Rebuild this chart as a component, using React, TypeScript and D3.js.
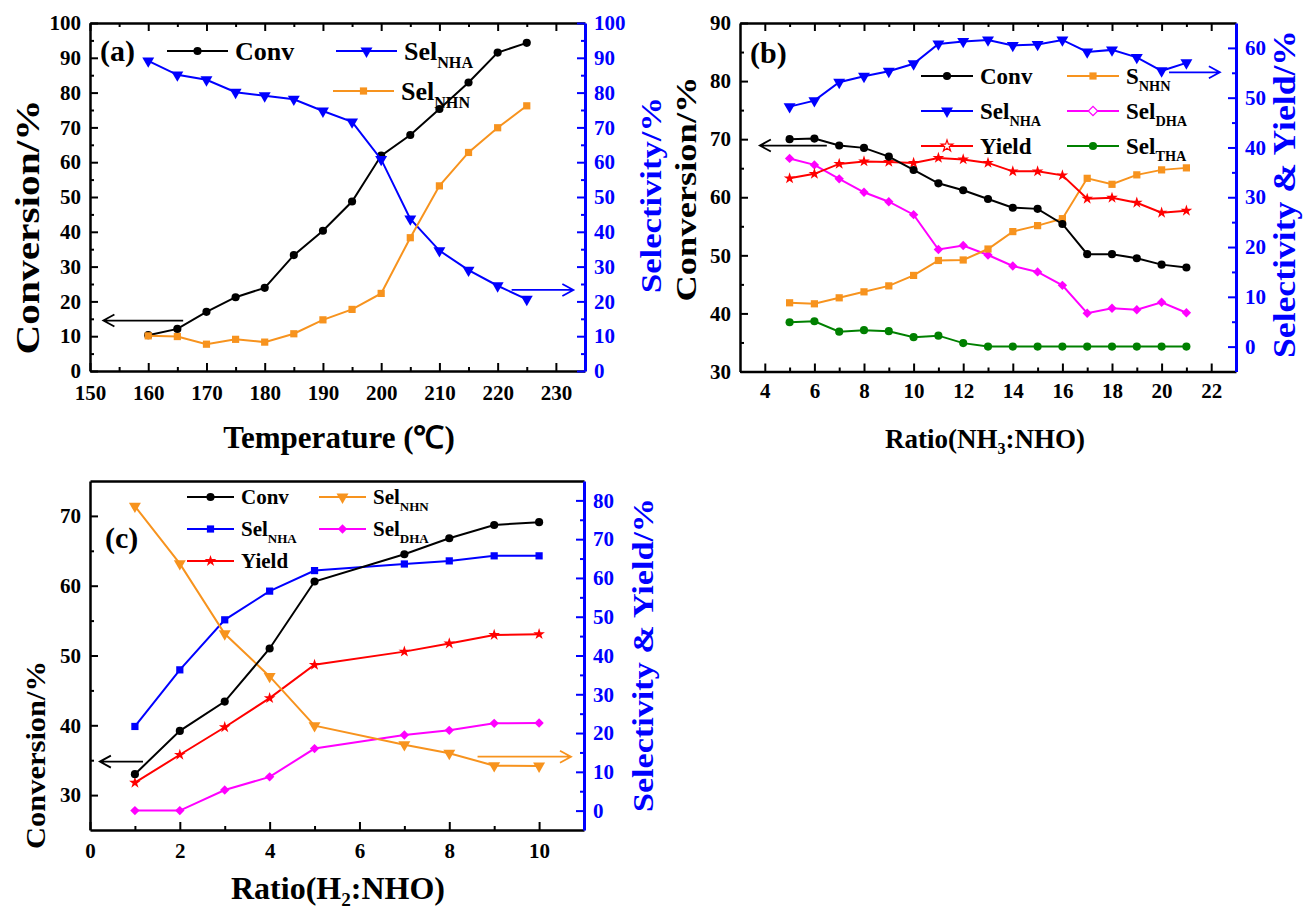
import React, { useEffect, useRef } from "react";
import * as d3 from "d3";

const FONT = "'Liberation Serif', 'Times New Roman', serif";
const ORANGE = "#f7931e";
const BLUE = "#0000ff";
const MAGENTA = "#ff00ff";
const RED = "#ff0000";
const GREEN = "#008000";

// ---- panel (a): temperature
const tempA = [160, 165, 170, 175, 180, 185, 190, 195, 200, 205, 210, 215, 220, 225];
const convA = [10.3, 12.1, 17.0, 21.2, 23.9, 33.3, 40.3, 48.7, 61.9, 67.8, 75.3, 82.9, 91.5, 94.3];
const selNhaA = [89.1, 85.1, 83.7, 80.1, 79.1, 78.1, 74.7, 71.6, 60.8, 43.7, 34.6, 29.0, 24.5, 20.6];
const selNhnA = [10.1, 9.9, 7.7, 9.1, 8.3, 10.7, 14.7, 17.7, 22.3, 38.3, 53.2, 62.8, 69.9, 76.2];
const xTicksA = [150, 160, 170, 180, 190, 200, 210, 220, 230];
const yTicksA = [0, 10, 20, 30, 40, 50, 60, 70, 80, 90, 100];

// ---- panel (b): NH3 ratio
const ratioB = [5, 6, 7, 8, 9, 10, 11, 12, 13, 14, 15, 16, 17, 18, 19, 20, 21];
const convB = [70.0, 70.1, 68.9, 68.5, 67.0, 64.7, 62.4, 61.2, 59.7, 58.2, 58.0, 55.4, 50.2, 50.2, 49.5, 48.4, 47.9];
const sNhnB = [8.8, 8.6, 9.8, 11.0, 12.2, 14.3, 17.3, 17.4, 19.6, 23.1, 24.3, 25.7, 33.8, 32.6, 34.5, 35.5, 35.9];
const selNhaB = [48.2, 49.4, 53.1, 54.3, 55.3, 56.8, 60.8, 61.3, 61.6, 60.5, 60.7, 61.6, 59.2, 59.6, 58.1, 55.4, 57.0];
const selDhaB = [37.8, 36.5, 33.7, 31.0, 29.1, 26.5, 19.5, 20.3, 18.4, 16.2, 15.0, 12.3, 6.7, 7.7, 7.4, 8.9, 6.8];
const yieldB = [33.8, 34.7, 36.7, 37.2, 37.1, 36.9, 37.9, 37.6, 36.9, 35.2, 35.2, 34.4, 29.7, 29.9, 28.9, 26.9, 27.3];
const selThaB = [4.9, 5.1, 3.0, 3.3, 3.1, 1.9, 2.2, 0.7, 0, 0, 0, 0, 0, 0, 0, 0, 0];
const xTicksB = [4, 6, 8, 10, 12, 14, 16, 18, 20, 22];
const yLeftTicksB = [30, 40, 50, 60, 70, 80, 90];
const yRightTicksB = [0, 10, 20, 30, 40, 50, 60];

// ---- panel (c): H2 ratio
const ratioC = [1, 2, 3, 4, 5, 7, 8, 9, 10];
const convC = [33.0, 39.2, 43.4, 51.0, 60.6, 64.5, 66.8, 68.7, 69.1];
const selNhnC = [78.5, 63.7, 45.6, 34.6, 21.9, 17.0, 14.8, 11.6, 11.5];
const selNhaC = [21.7, 36.3, 49.2, 56.6, 61.9, 63.6, 64.4, 65.7, 65.7];
const selDhaC = [0, 0, 5.3, 8.7, 16.0, 19.5, 20.7, 22.5, 22.6];
const yieldC = [7.2, 14.4, 21.5, 29.0, 37.6, 41.0, 43.1, 45.3, 45.5];
const xTicksC = [0, 2, 4, 6, 8, 10];
const yLeftTicksC = [30, 40, 50, 60, 70];
const yRightTicksC = [0, 10, 20, 30, 40, 50, 60, 70, 80];

const triDown = { type: d3.symbolTriangle, rot: 180, size: 62 };
const circle = { type: d3.symbolCircle, rot: 0, size: 52 };
const square = { type: d3.symbolSquare, rot: 0, size: 52 };
const diamond = { type: d3.symbolSquare, rot: 45, size: 44 };
const star = { type: d3.symbolStar, rot: 0, size: 42 };

const mid = (a: number[]) => a.slice(0, -1).map((v, i) => (v + a[i + 1]) / 2);

const panels: any[] = [
  {
    box: [90, 23, 585, 371],
    xDomain: [150, 235], left: [0, 100], right: [0, 100],
    xMajor: xTicksA, xMinor: mid(xTicksA),
    lMajor: yTicksA, lMinor: mid(yTicksA), rMajor: yTicksA, rMinor: mid(yTicksA),
    topTicks: true, xPad: 14,
    series: [
      { x: tempA, y: convA, color: "#000", sym: circle, axis: "l" },
      { x: tempA, y: selNhaA, color: BLUE, sym: triDown, axis: "r" },
      { x: tempA, y: selNhnA, color: ORANGE, sym: square, axis: "r" },
    ],
    legend: {
      font: 26, len: 61,
      items: [
        { x: 167, y: 51, main: "Conv", sub: "", color: "#000", sym: circle },
        { x: 336, y: 51, main: "Sel", sub: "NHA", color: BLUE, sym: triDown },
        { x: 333, y: 91, main: "Sel", sub: "NHN", color: ORANGE, sym: square },
      ],
    },
    tag: { text: "(a)", x: 100, y: 61 },
    arrows: [
      { from: [166, 14.5], to: [152.3, 14.5], axis: "l", color: "#000" },
      { from: [222.4, 23.3], to: [233, 23.3], axis: "r", color: BLUE },
    ],
    xTitle: { parts: [["Temperature (\u2103)", ""]], x: 339, y: 448, font: 31 },
    lTitle: { text: "Conversion/%", x: 28, y: 227, font: 33, len: 255 },
    rTitle: { text: "Selectivity/%", x: 650, y: 195, font: 30, len: 196 },
  },
  {
    box: [740, 23, 1236, 371.5],
    xDomain: [3, 23], left: [30, 90], right: [-5, 65],
    xMajor: xTicksB, xMinor: mid(xTicksB),
    lMajor: yLeftTicksB, lMinor: mid(yLeftTicksB), rMajor: yRightTicksB, rMinor: mid(yRightTicksB),
    topTicks: true, xPad: 12,
    series: [
      { x: ratioB, y: selThaB, color: GREEN, sym: circle, axis: "r" },
      { x: ratioB, y: selDhaB, color: MAGENTA, sym: diamond, axis: "r" },
      { x: ratioB, y: sNhnB, color: ORANGE, sym: square, axis: "r" },
      { x: ratioB, y: yieldB, color: RED, sym: star, axis: "r" },
      { x: ratioB, y: convB, color: "#000", sym: circle, axis: "l" },
      { x: ratioB, y: selNhaB, color: BLUE, sym: triDown, axis: "r" },
    ],
    legend: {
      font: 23, len: 52,
      items: [
        { x: 921, y: 76, main: "Conv", sub: "", color: "#000", sym: circle },
        { x: 1067, y: 76, main: "S", sub: "NHN", color: ORANGE, sym: square },
        { x: 921, y: 111, main: "Sel", sub: "NHA", color: BLUE, sym: triDown },
        { x: 1067, y: 111, main: "Sel", sub: "DHA", color: MAGENTA, sym: diamond, hollow: true },
        { x: 921, y: 146, main: "Yield", sub: "", color: RED, sym: star, hollow: true },
        { x: 1067, y: 146, main: "Sel", sub: "THA", color: GREEN, sym: circle },
      ],
    },
    tag: { text: "(b)", x: 750, y: 63 },
    arrows: [
      { from: [6.5, 68.9], to: [3.8, 68.9], axis: "l", color: "#000" },
      { from: [20.3, 55.1], to: [22.35, 55.1], axis: "r", color: BLUE },
    ],
    xTitle: { parts: [["Ratio(NH", "3"], [":NHO)", ""]], x: 985, y: 448, font: 27 },
    lTitle: { text: "Conversion/%", x: 685, y: 189, font: 30, len: 225 },
    rTitle: { text: "Selectivity & Yield/%", x: 1284, y: 194, font: 32, len: 328 },
  },
  {
    box: [90, 481, 584, 830],
    xDomain: [0, 11], left: [25, 75], right: [-5, 85],
    xMajor: xTicksC, xMinor: mid(xTicksC),
    lMajor: yLeftTicksC, lMinor: [35, 45, 55, 65], rMajor: yRightTicksC, rMinor: mid(yRightTicksC),
    topTicks: false, xPad: 13,
    series: [
      { x: ratioC, y: selDhaC, color: MAGENTA, sym: diamond, axis: "r" },
      { x: ratioC, y: yieldC, color: RED, sym: star, axis: "r" },
      { x: ratioC, y: selNhaC, color: BLUE, sym: square, axis: "r" },
      { x: ratioC, y: selNhnC, color: ORANGE, sym: triDown, axis: "r" },
      { x: ratioC, y: convC, color: "#000", sym: circle, axis: "l" },
    ],
    legend: {
      font: 21, len: 47,
      items: [
        { x: 187, y: 497, main: "Conv", sub: "", color: "#000", sym: circle },
        { x: 319, y: 497, main: "Sel", sub: "NHN", color: ORANGE, sym: triDown },
        { x: 187, y: 529, main: "Sel", sub: "NHA", color: BLUE, sym: square },
        { x: 319, y: 529, main: "Sel", sub: "DHA", color: MAGENTA, sym: diamond },
        { x: 187, y: 561, main: "Yield", sub: "", color: RED, sym: star },
      ],
    },
    tag: { text: "(c)", x: 105, y: 548 },
    arrows: [
      { from: [1.18, 34.8], to: [0.22, 34.8], axis: "l", color: "#000" },
      { from: [8.63, 13.9], to: [10.71, 13.9], axis: "r", color: ORANGE },
    ],
    xTitle: { parts: [["Ratio(H", "2"], [":NHO)", ""]], x: 338, y: 899, font: 32 },
    lTitle: { text: "Conversion/%", x: 35, y: 755, font: 28, len: 188 },
    rTitle: { text: "Selectivity & Yield/%", x: 642, y: 655, font: 30, len: 314 },
  },
];

function drawPanel(svg: any, p: any) {
  const [x0, y0, x1, y1] = p.box;
  const x = d3.scaleLinear().domain(p.xDomain).range([x0, x1]);
  const yl = d3.scaleLinear().domain(p.left).range([y1, y0]);
  const yr = d3.scaleLinear().domain(p.right).range([y1, y0]);
  const g = svg.append("g");

  const style = (sel: any, color: string, w: number) => {
    sel.attr("font-family", FONT).attr("font-size", 21).attr("font-weight", "bold");
    sel.selectAll("line").attr("stroke", color).attr("stroke-width", 2);
    sel.selectAll("path").attr("stroke", color).attr("stroke-width", w);
    sel.selectAll("text").attr("fill", color);
  };
  const fmt = d3.format("d");

  // bottom
  g.append("g").attr("transform", `translate(0,${y1})`)
    .call(d3.axisBottom(x).tickValues(p.xMajor).tickSize(-8).tickSizeOuter(0).tickPadding(p.xPad).tickFormat(fmt))
    .call((s: any) => style(s, "#000", 2.5));
  g.append("g").attr("transform", `translate(0,${y1})`)
    .call(d3.axisBottom(x).tickValues(p.xMinor).tickSize(-4).tickFormat(() => ""))
    .call((s: any) => { s.select(".domain").remove(); style(s, "#000", 2); });
  // top
  g.append("g").attr("transform", `translate(0,${y0})`)
    .call(d3.axisTop(x).tickValues(p.topTicks ? p.xMajor : []).tickSize(-8).tickSizeOuter(0).tickFormat(() => ""))
    .call((s: any) => style(s, "#000", 2.5));
  if (p.topTicks) {
    g.append("g").attr("transform", `translate(0,${y0})`)
      .call(d3.axisTop(x).tickValues(p.xMinor).tickSize(-4).tickFormat(() => ""))
      .call((s: any) => { s.select(".domain").remove(); style(s, "#000", 2); });
  }
  // left
  g.append("g").attr("transform", `translate(${x0},0)`)
    .call(d3.axisLeft(yl).tickValues(p.lMajor).tickSize(-8).tickSizeOuter(0).tickPadding(9).tickFormat(fmt))
    .call((s: any) => style(s, "#000", 2.5));
  g.append("g").attr("transform", `translate(${x0},0)`)
    .call(d3.axisLeft(yl).tickValues(p.lMinor).tickSize(-4).tickFormat(() => ""))
    .call((s: any) => { s.select(".domain").remove(); style(s, "#000", 2); });
  // right
  g.append("g").attr("transform", `translate(${x1},0)`)
    .call(d3.axisRight(yr).tickValues(p.rMajor).tickSize(-8).tickSizeOuter(0).tickPadding(9).tickFormat(fmt))
    .call((s: any) => style(s, BLUE, 3));
  g.append("g").attr("transform", `translate(${x1},0)`)
    .call(d3.axisRight(yr).tickValues(p.rMinor).tickSize(-4).tickFormat(() => ""))
    .call((s: any) => { s.select(".domain").remove(); style(s, BLUE, 2); });

  // series
  p.series.forEach((s: any) => {
    const ys = s.axis === "l" ? yl : yr;
    const pts = s.x.map((v: number, i: number) => [x(v), ys(s.y[i])]);
    g.append("path").attr("d", d3.line()(pts)).attr("fill", "none").attr("stroke", s.color).attr("stroke-width", 2);
    g.selectAll(null).data(pts).join("path")
      .attr("d", d3.symbol().type(s.sym.type).size(s.sym.size)())
      .attr("transform", (d: any) => `translate(${d[0]},${d[1]}) rotate(${s.sym.rot})`)
      .attr("fill", s.color);
  });

  // arrows
  p.arrows.forEach((a: any) => {
    const ys = a.axis === "l" ? yl : yr;
    const fx = x(a.from[0]), tx = x(a.to[0]), yy = ys(a.from[1]);
    const dir = tx < fx ? 1 : -1;
    g.append("path")
      .attr("d", `M${fx},${yy}H${tx}M${tx + dir * 11},${yy - 6}L${tx},${yy}L${tx + dir * 11},${yy + 6}`)
      .attr("fill", "none").attr("stroke", a.color).attr("stroke-width", 1.8);
  });

  // legend
  const L = p.legend;
  L.items.forEach((it: any) => {
    g.append("line").attr("x1", it.x).attr("x2", it.x + L.len).attr("y1", it.y).attr("y2", it.y)
      .attr("stroke", it.color).attr("stroke-width", 2);
    g.append("path").attr("d", d3.symbol().type(it.sym.type).size(it.sym.size)())
      .attr("transform", `translate(${it.x + L.len / 2},${it.y}) rotate(${it.sym.rot})`)
      .attr("fill", it.hollow ? "#fff" : it.color).attr("stroke", it.hollow ? it.color : "none").attr("stroke-width", 1.2);
    const t = g.append("text").attr("x", it.x + L.len + 7).attr("y", it.y + L.font * 0.34)
      .attr("font-family", FONT).attr("font-weight", "bold").attr("font-size", L.font);
    t.append("tspan").text(it.main);
    if (it.sub) t.append("tspan").attr("dy", L.font * 0.32).attr("font-size", L.font * 0.62).text(it.sub);
  });

  g.append("text").attr("x", p.tag.x).attr("y", p.tag.y).attr("font-family", FONT).attr("font-weight", "bold")
    .attr("font-size", 30).text(p.tag.text);

  // titles
  const xt = g.append("text").attr("x", p.xTitle.x).attr("y", p.xTitle.y).attr("text-anchor", "middle")
    .attr("font-family", FONT).attr("font-weight", "bold").attr("font-size", p.xTitle.font);
  p.xTitle.parts.forEach(([m, s]: string[], i: number) => {
    const prevSub = i > 0 && p.xTitle.parts[i - 1][1];
    xt.append("tspan").attr("dy", prevSub ? -p.xTitle.font * 0.22 : 0).text(m);
    if (s) xt.append("tspan").attr("dy", p.xTitle.font * 0.22).attr("font-size", p.xTitle.font * 0.6).text(s);
  });
  [[p.lTitle, "#000"], [p.rTitle, BLUE]].forEach(([t, c]: any) => {
    g.append("text").attr("transform", `translate(${t.x},${t.y}) rotate(-90)`)
      .attr("text-anchor", "middle").attr("dominant-baseline", "central")
      .attr("font-family", FONT).attr("font-weight", "bold").attr("font-size", t.font)
      .attr("textLength", t.len).attr("lengthAdjust", "spacingAndGlyphs")
      .attr("fill", c).text(t.text);
  });
}

export default function App() {
  const ref = useRef<SVGSVGElement>(null);
  useEffect(() => {
    const svg = d3.select(ref.current);
    svg.selectAll("*").remove();
    panels.forEach((p) => drawPanel(svg, p));
  }, []);
  return (
    <svg ref={ref} width={1309} height={914}
      style={{ position: "absolute", left: 0, top: 0, background: "#fff", display: "block" }} />
  );
}
